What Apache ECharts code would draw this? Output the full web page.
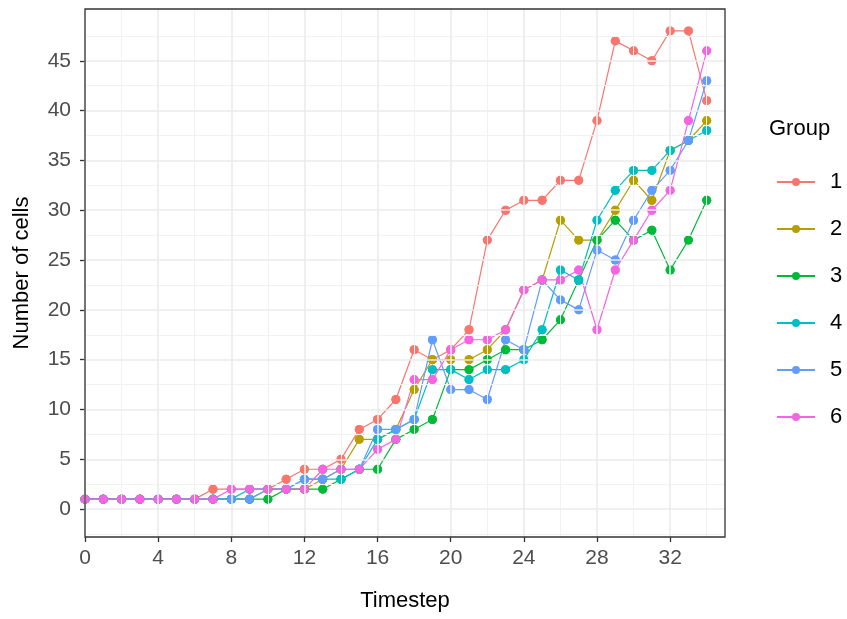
<!DOCTYPE html>
<html>
<head>
<meta charset="utf-8">
<script src="https://cdn.jsdelivr.net/npm/echarts@6/dist/echarts.min.js"></script>
<style>
  html, body { margin: 0; padding: 0; background: #ffffff; }
  #chart { width: 847px; height: 619px; }
</style>
</head>
<body>
<div id="chart"></div>
<script>
// Cell counts per timestep for six groups
const timesteps = [0, 1, 2, 3, 4, 5, 6, 7, 8, 9, 10, 11, 12, 13, 14, 15, 16, 17, 18, 19, 20, 21, 22, 23, 24, 25, 26, 27, 28, 29, 30, 31, 32, 33, 34];
const groupNames = ['1', '2', '3', '4', '5', '6'];
const group1 = [1, 1, 1, 1, 1, 1, 1, 2, 2, 2, 2, 3, 4, 4, 5, 8, 9, 11, 16, 15, 16, 18, 27, 30, 31, 31, 33, 33, 39, 47, 46, 45, 48, 48, 41];
const group2 = [1, 1, 1, 1, 1, 1, 1, 1, 1, 1, 2, 2, 2, 3, 4, 7, 7, 8, 12, 15, 15, 15, 16, 18, 22, 23, 29, 27, 27, 30, 33, 31, 36, 37, 39];
const group3 = [1, 1, 1, 1, 1, 1, 1, 1, 1, 1, 1, 2, 2, 2, 3, 4, 4, 7, 8, 9, 14, 14, 15, 16, 16, 17, 19, 23, 27, 29, 27, 28, 24, 27, 31];
const group4 = [1, 1, 1, 1, 1, 1, 1, 1, 1, 2, 2, 2, 3, 3, 3, 4, 7, 8, 9, 14, 14, 13, 14, 14, 15, 18, 24, 23, 29, 32, 34, 34, 36, 37, 38];
const group5 = [1, 1, 1, 1, 1, 1, 1, 1, 1, 1, 2, 2, 3, 3, 4, 4, 8, 8, 9, 17, 12, 12, 11, 17, 16, 23, 21, 20, 26, 25, 29, 32, 34, 37, 43];
const group6 = [1, 1, 1, 1, 1, 1, 1, 1, 2, 2, 2, 2, 2, 4, 4, 4, 6, 7, 13, 13, 16, 17, 17, 18, 22, 23, 23, 24, 18, 24, 27, 30, 32, 39, 46];

// Axis ticks and grid lines
const xTicks = [0, 4, 8, 12, 16, 20, 24, 28, 32];
const xMinorGrid = [2, 6, 10, 14, 18, 22, 26, 30, 34];
const yTicks = [0, 5, 10, 15, 20, 25, 30, 35, 40, 45];
const yMinorGrid = [-2.5, 2.5, 7.5, 12.5, 17.5, 22.5, 27.5, 32.5, 37.5, 42.5, 47.5];

const groupValues = [group1, group2, group3, group4, group5, group6];
const palette = ['#F8766D', '#B79F00', '#00BA38', '#00BFC4', '#619CFF', '#F564E3'];
const FONT = 'Liberation Sans, Arial, sans-serif';

const pairs = vals => timesteps.map((t, i) => [t, vals[i]]);

// Background grid drawn through the axes' own scales
const gridSeries = {
  type: 'line',
  data: [],
  silent: true,
  z: 0,
  markLine: {
    silent: true,
    symbol: ['none', 'none'],
    animation: false,
    label: { show: false },
    emphasis: { disabled: true },
    data: [
      ...xMinorGrid.map(v => ({ xAxis: v, lineStyle: { color: '#F2F2F2', width: 1, type: 'solid' } })),
      ...yMinorGrid.map(v => ({ yAxis: v, lineStyle: { color: '#F2F2F2', width: 1, type: 'solid' } })),
      ...xTicks.map(v => ({ xAxis: v, lineStyle: { color: '#EBEBEB', width: 1.6, type: 'solid' } })),
      ...yTicks.map(v => ({ yAxis: v, lineStyle: { color: '#EBEBEB', width: 1.6, type: 'solid' } }))
    ]
  }
};

// Lines (with points) under every group's points
const lineSeries = groupValues.map((vals, i) => ({
  name: groupNames[i],
  type: 'line',
  data: pairs(vals),
  symbol: 'circle',
  symbolSize: 9,
  showSymbol: true,
  z: 2,
  lineStyle: { color: palette[i], width: 1.2 },
  itemStyle: { color: palette[i] },
  emphasis: { disabled: true },
  animation: false
}));

const pointSeries = groupValues.map((vals, i) => ({
  name: groupNames[i],
  type: 'scatter',
  data: pairs(vals),
  symbol: 'circle',
  symbolSize: 9,
  z: 3,
  itemStyle: { color: palette[i], opacity: 1 },
  emphasis: { disabled: true },
  animation: false
}));

const chart = echarts.init(document.getElementById('chart'), null, { renderer: 'canvas' });

chart.setOption({
  backgroundColor: '#ffffff',
  animation: false,
  textStyle: { fontFamily: FONT },
  grid: { left: 85, top: 9, width: 640, height: 528, containLabel: false },
  xAxis: {
    type: 'value',
    min: 0,
    max: 35,
    name: 'Timestep',
    nameLocation: 'middle',
    nameGap: 53,
    nameTextStyle: { fontSize: 22, color: '#000000', fontFamily: FONT },
    axisLine: { show: false, onZero: false },
    axisTick: { show: true, length: 5, customValues: xTicks, lineStyle: { color: '#333333', width: 1.3 } },
    axisLabel: { customValues: xTicks, color: '#4D4D4D', fontSize: 21, margin: 11, fontFamily: FONT },
    splitLine: { show: false }
  },
  yAxis: {
    type: 'value',
    min: -2.8,
    max: 50.2,
    name: 'Number of cells',
    nameLocation: 'middle',
    nameGap: 52,
    nameRotate: 90,
    nameTextStyle: { fontSize: 22, color: '#000000', fontFamily: FONT },
    axisLine: { show: false, onZero: false },
    axisTick: { show: true, length: 5, customValues: yTicks, lineStyle: { color: '#333333', width: 1.3 } },
    axisLabel: { customValues: yTicks, color: '#4D4D4D', fontSize: 21, margin: 14, fontFamily: FONT },
    splitLine: { show: false }
  },
  legend: {
    orient: 'vertical',
    left: 771,
    top: 166,
    data: groupNames,
    itemWidth: 38,
    itemHeight: 10,
    itemGap: 25,
    selectedMode: false,
    textStyle: { fontSize: 22, color: '#000000', padding: [0, 0, 0, 10], fontFamily: FONT }
  },
  graphic: [
    {
      type: 'text',
      left: 769,
      top: 118,
      style: { text: 'Group', fontSize: 22, fill: '#000000', fontFamily: FONT }
    },
    {
      type: 'rect',
      z: 100,
      silent: true,
      shape: { x: 85, y: 9, width: 640, height: 528 },
      style: { fill: 'none', stroke: '#333333', lineWidth: 1.3 }
    }
  ],
  series: [gridSeries, ...lineSeries, ...pointSeries]
});
</script>
</body>
</html>
